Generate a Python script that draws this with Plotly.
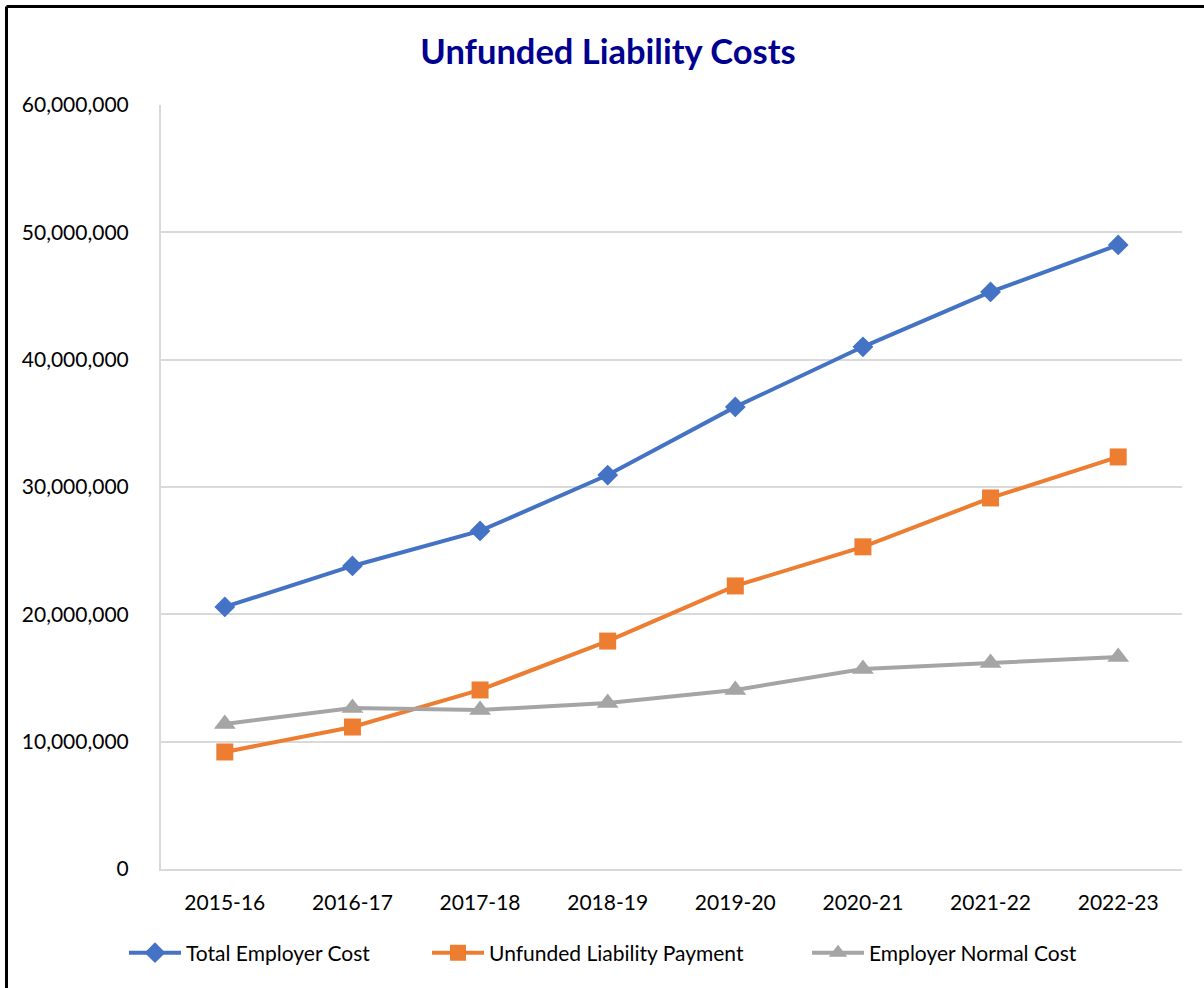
import plotly.graph_objects as go

years = ["2015-16", "2016-17", "2017-18", "2018-19", "2019-20", "2020-21", "2021-22", "2022-23"]
total_employer_cost = [20580000, 23800000, 26550000, 30940000, 36290000, 41010000, 45320000, 49010000]
unfunded_liability_payment = [9190000, 11150000, 14060000, 17900000, 22230000, 25300000, 29140000, 32360000]
employer_normal_cost = [11390000, 12650000, 12490000, 13040000, 14060000, 15710000, 16180000, 16650000]

FONT = "Lato, 'Open Sans', sans-serif"

L, R, T, B = 161, 22, 105, 119
W, H = 1204, 988
pw, ph = W - L - R, H - T - B


def px_x(px):
    return (px - L) / pw


def px_y(py):
    return (T + ph - py) / ph


fig = go.Figure()
fig.add_trace(go.Scatter(x=years, y=total_employer_cost, name="Total Employer Cost",
                         mode="lines+markers", legend="legend",
                         line=dict(color="#4472C4", width=4),
                         marker=dict(symbol="diamond", size=16, color="#4472C4")))
fig.add_trace(go.Scatter(x=years, y=unfunded_liability_payment, name="Unfunded Liability Payment",
                         mode="lines+markers", legend="legend2",
                         line=dict(color="#ED7D31", width=4),
                         marker=dict(symbol="square", size=17, color="#ED7D31")))
fig.add_trace(go.Scatter(x=years, y=employer_normal_cost, name="Employer Normal Cost",
                         mode="lines+markers", legend="legend3",
                         line=dict(color="#A5A5A5", width=4),
                         marker=dict(symbol="triangle-up", size=19, color="#A5A5A5")))

bx = px_x(6.5)
by = px_y(6.5)

leg_common = dict(orientation="h", xanchor="left", yanchor="middle", y=px_y(953),
                  font=dict(family=FONT, size=21), itemwidth=52, bgcolor="rgba(0,0,0,0)")

fig.update_layout(
    width=W, height=H,
    margin=dict(l=L, r=R, t=T, b=B),
    paper_bgcolor="white", plot_bgcolor="white",
    font=dict(family=FONT, size=21, color="#000000"),
    title=dict(text="<b>Unfunded Liability Costs</b>", x=0.505, xanchor="center",
               y=1 - 52 / H, yanchor="middle",
               font=dict(family=FONT, size=34.5, color="#000090")),
    xaxis=dict(type="category", range=[-0.5, 7.5], showgrid=False,
               showline=True, linecolor="#D9D9D9", linewidth=2,
               ticks="", ticklabelstandoff=14, fixedrange=True),
    yaxis=dict(range=[0, 60000000], dtick=10000000, tickformat=",",
               showgrid=True, gridcolor="#D9D9D9", gridwidth=1.5,
               showline=True, linecolor="#D9D9D9", linewidth=2,
               zeroline=False, ticks="", ticklabelstandoff=26),
    legend=dict(x=px_x(124), **leg_common),
    legend2=dict(x=px_x(427), **leg_common),
    legend3=dict(x=px_x(807), **leg_common),
    showlegend=True,
    shapes=[
        dict(type="line", xref="paper", yref="paper", x0=bx, x1=px_x(1210), y0=by, y1=by,
             line=dict(color="black", width=3)),
        dict(type="line", xref="paper", yref="paper", x0=bx, x1=bx, y0=by, y1=px_y(995),
             line=dict(color="black", width=3)),
    ],
)

fig.write_html("out.html", config={"displayModeBar": False},
               post_script="document.body.style.margin='0';document.body.style.padding='0';")
